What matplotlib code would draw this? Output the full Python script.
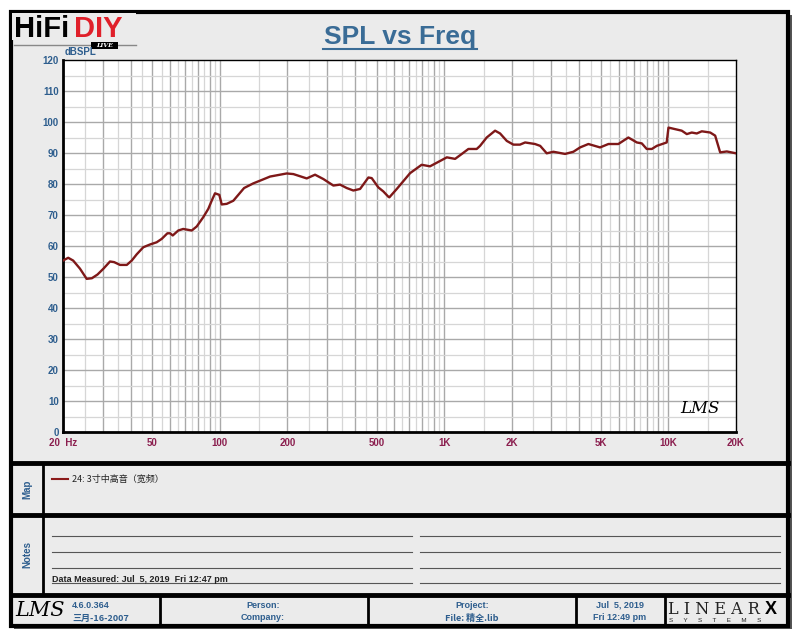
import matplotlib
matplotlib.use("Agg")
import matplotlib.pyplot as plt
from matplotlib.patches import Rectangle
from matplotlib.ticker import FixedLocator, NullFormatter

plt.rcParams['font.family'] = ['Liberation Sans', 'Noto Sans CJK SC', 'DejaVu Sans']

# ---------------- data ----------------
freq = [20, 21.1, 22.2, 23.8, 25.5, 26.9, 28.5, 30.3, 32.4, 33.8,
        35.9, 38.5, 40.5, 42.6, 45.6, 48.9, 52.3, 55.1, 58.4, 60,
        61.7, 65.3, 68.7, 75, 78.9, 84.4, 88.9, 92, 95.2, 99.5,
        102, 107.4, 114.9, 128.3, 141, 153.8, 167.5, 198.7, 212.8, 244,
        265.8, 289.5, 320.8, 343.6, 368, 393.8, 422, 459.6, 475.6, 509,
        535.8, 564, 570, 615, 705, 794, 865, 975, 1028, 1119,
        1199, 1283, 1397, 1446, 1548, 1687, 1776, 1902, 2036, 2178,
        2296, 2541, 2680, 2866, 3070, 3460, 3768, 4036, 4396, 4956,
        5400, 5980, 6625, 7228, 7605, 8000, 8430, 8870, 9820, 10000,
        10700, 11460, 12070, 12700, 13370, 14080, 15350, 16150, 17000, 18200,
        20000]
spl = [55.3, 56.2, 55.3, 52.7, 49.4, 49.6, 50.8, 52.7, 55.0, 54.8,
       53.9, 53.9, 55.3, 57.3, 59.6, 60.5, 61.2, 62.3, 64.1, 64.1,
       63.4, 65.0, 65.5, 65.0, 66.3, 69.3, 72.0, 74.6, 77.0, 76.5,
       73.4, 73.6, 74.6, 78.7, 80.2, 81.3, 82.4, 83.4, 83.2, 81.8,
       83.0, 81.6, 79.5, 79.8, 78.7, 77.9, 78.4, 82.1, 81.9, 78.9,
       77.6, 75.9, 75.7, 78.4, 83.5, 86.2, 85.7, 87.7, 88.6, 88.1,
       89.7, 91.3, 91.3, 92.3, 95.0, 97.2, 96.3, 93.9, 92.7, 92.7,
       93.4, 92.9, 92.3, 89.9, 90.4, 89.7, 90.4, 91.8, 92.9, 91.8,
       92.9, 92.9, 95.0, 93.4, 93.1, 91.3, 91.3, 92.3, 93.4, 98.2,
       97.7, 97.2, 96.1, 96.6, 96.3, 97.0, 96.6, 95.6, 90.2, 90.5,
       89.9]
xtick_vals = [20, 50, 100, 200, 500, 1000, 2000, 5000, 10000, 20000]
xtick_labels = ['20  Hz', '50', '100', '200', '500', '1K', '2K', '5K', '10K', '20K']
ytick_vals = [0, 10, 20, 30, 40, 50, 60, 70, 80, 90, 100, 110, 120]
series_name = '24: 3寸中高音（宽频）'

# ---------------- figure ----------------
W, H = 800, 640
fig = plt.figure(figsize=(8, 6.4), dpi=100, facecolor='white')

def rect(x0, y0, x1, y1):
    return [x0 / W, 1 - y1 / H, (x1 - x0) / W, (y1 - y0) / H]

# overlay axes in pixel coordinates
bg = fig.add_axes([0, 0, 1, 1])
bg.set_xlim(0, W)
bg.set_ylim(H, 0)
bg.axis('off')

GRAY = '#EBEBEB'
BLUE = '#2E5E8E'
MAROON = '#8B1F4F'

# shadow + frame
bg.add_patch(Rectangle((14, 15), 778, 614, facecolor='#555555', edgecolor='none', zorder=0))
bg.add_patch(Rectangle((11, 12), 777, 614, facecolor=GRAY, edgecolor='black', lw=3, zorder=1))
# horizontal separators
for yy in [463, 515, 595]:
    bg.plot([11, 788], [yy, yy], color='black', lw=3.5, zorder=2)
# left column separator for map/notes
bg.plot([43, 43], [463, 595], color='black', lw=2, zorder=2)
# footer dividers
for xx in [160, 368, 576, 665]:
    bg.plot([xx, xx], [595, 626], color='black', lw=2, zorder=2)

# logo
bg.add_patch(Rectangle((12, 13), 124, 27, facecolor=GRAY, edgecolor='none', zorder=3))
bg.text(14, 37, 'HiFi', fontsize=21, fontweight='bold', color='black',
        family='Liberation Sans', va='baseline', zorder=5)
bg.text(74, 37, 'DIY', fontsize=21, fontweight='bold', color='#E0202A',
        family='Liberation Sans', va='baseline', zorder=5)
bg.plot([14, 136], [45, 45], color='#888888', lw=1, zorder=4)
bg.add_patch(Rectangle((91, 41.5), 27, 7, facecolor='black', edgecolor='none', zorder=5))
bg.text(104.5, 45.3, 'LIVE', fontsize=4.5, color='white', fontweight='bold',
        style='italic', ha='center', va='center', family='DejaVu Serif', zorder=6)

# title
bg.text(400, 37, 'SPL vs Freq', fontsize=19, fontweight='bold', color='#3A6C96',
        ha='center', va='center', zorder=5)
bg.plot([323, 477], [49, 49], color='#3A6C96', lw=1.5, zorder=5)

# dBSPL label
bg.text(65, 55, 'dBSPL', fontsize=7, fontweight='bold', color=BLUE, ha='left',
        va='baseline', zorder=5)

# map panel
bg.text(27, 489, 'Map', fontsize=7, fontweight='bold', color=BLUE, rotation=90,
        ha='center', va='center', zorder=5)
bg.plot([52, 68], [479, 479], color='#8B1A1A', lw=1.5, zorder=5)
bg.text(72, 479, series_name, fontsize=6.5, color='#222222', va='center',
        family=['Noto Sans CJK SC', 'DejaVu Sans'], zorder=5)

# notes panel
bg.text(27, 555, 'Notes', fontsize=7, fontweight='bold', color=BLUE, rotation=90,
        ha='center', va='center', zorder=5)
for yy in [536, 552, 567.5]:
    bg.plot([52, 412], [yy, yy], color='#555555', lw=0.8, zorder=5)
for yy in [536, 552, 567.5, 583]:
    bg.plot([420, 780], [yy, yy], color='#555555', lw=0.8, zorder=5)
bg.plot([52, 412], [583, 583], color='#555555', lw=0.8, zorder=5)
bg.text(52, 581.5, 'Data Measured: Jul  5, 2019  Fri 12:47 pm', fontsize=6.5,
        fontweight='bold', color='#222222', va='baseline', zorder=5)

# footer
bg.text(40, 611, 'LMS', fontsize=15, style='italic', color='black', ha='center',
        va='center', family='DejaVu Serif', zorder=5)
bg.text(72, 605, '4.6.0.364', fontsize=6.5, fontweight='bold', color=BLUE,
        va='center', zorder=5)
bg.text(72, 618, '三月-16-2007', fontsize=6.5, fontweight='bold', color=BLUE,
        va='center', family=['Noto Sans CJK SC', 'DejaVu Sans'], zorder=5)
bg.text(263, 605, 'Person:', fontsize=6.5, fontweight='bold', color=BLUE,
        ha='center', va='center', zorder=5)
bg.text(263, 618, 'Company:', fontsize=6.5, fontweight='bold', color=BLUE,
        ha='center', va='center', zorder=5)
bg.text(472, 605, 'Project:', fontsize=6.5, fontweight='bold', color=BLUE,
        ha='center', va='center', zorder=5)
bg.text(472, 618, 'File: 精全.lib', fontsize=6.5, fontweight='bold', color=BLUE,
        ha='center', va='center', family=['Noto Sans CJK SC', 'DejaVu Sans'], zorder=5)
bg.text(620, 605, 'Jul  5, 2019', fontsize=6.5, fontweight='bold', color=BLUE,
        ha='center', va='center', zorder=5)
bg.text(620, 618, 'Fri 12:49 pm', fontsize=6.5, fontweight='bold', color=BLUE,
        ha='center', va='center', zorder=5)
bg.text(668, 614, 'L I N E A R', fontsize=11.5, color='#222222', va='baseline',
        family='DejaVu Serif', fontweight='light', zorder=5)
bg.text(765, 614, 'X', fontsize=13, color='black', va='baseline', fontweight='heavy',
        zorder=5)
bg.text(669, 621, 'S      Y      S      T      E      M      S', fontsize=4.5,
        color='#222222', va='center', zorder=5)

# ---------------- main plot ----------------
ax = fig.add_axes(rect(63, 60, 736, 432))
ax.set_facecolor('white')
ax.set_xscale('log')
ax.set_xlim(20, 20000)
ax.set_ylim(0, 120)

# grid positions (1-9 per decade dark, halves light)
major_x, minor_x = [], []
for dec in [10, 100, 1000, 10000]:
    for m in range(1, 10):
        v = m * dec
        if 20 < v < 20000:
            major_x.append(v)
        h = (m + 0.5) * dec
        if 20 < h < 20000:
            minor_x.append(h)
for v in minor_x:
    ax.axvline(v, color='#D6D6D6', lw=0.9, zorder=1)
for v in major_x:
    ax.axvline(v, color='#A9A9A9', lw=1.0, zorder=1)
for v in range(5, 120, 10):
    ax.axhline(v, color='#D6D6D6', lw=0.9, zorder=1)
for v in range(10, 120, 10):
    ax.axhline(v, color='#A9A9A9', lw=1.0, zorder=1)

ax.plot(freq, spl, color='#7E1818', lw=1.7, zorder=3, solid_joinstyle='round')

ax.xaxis.set_minor_locator(FixedLocator([]))
ax.xaxis.set_minor_formatter(NullFormatter())
ax.set_xticks(xtick_vals)
ax.set_xticklabels(xtick_labels)
ax.set_yticks(ytick_vals)
ax.set_yticklabels([str(v) for v in ytick_vals])
ax.tick_params(axis='x', length=0, pad=4, labelsize=7, labelcolor=MAROON)
ax.tick_params(axis='y', length=0, pad=3, labelsize=7, labelcolor=BLUE)
for lab in ax.get_xticklabels() + ax.get_yticklabels():
    lab.set_fontweight('bold')
for s in ax.spines.values():
    s.set_color('black')
    s.set_linewidth(1.0)
ax.spines['left'].set_linewidth(2.0)
ax.spines['bottom'].set_linewidth(2.0)

ax.text(0.975, 0.04, 'LMS', transform=ax.transAxes, fontsize=12, style='italic',
        family='DejaVu Serif', ha='right', va='bottom', color='black', zorder=4)

fig.savefig('out.png', dpi=100, facecolor='white')
